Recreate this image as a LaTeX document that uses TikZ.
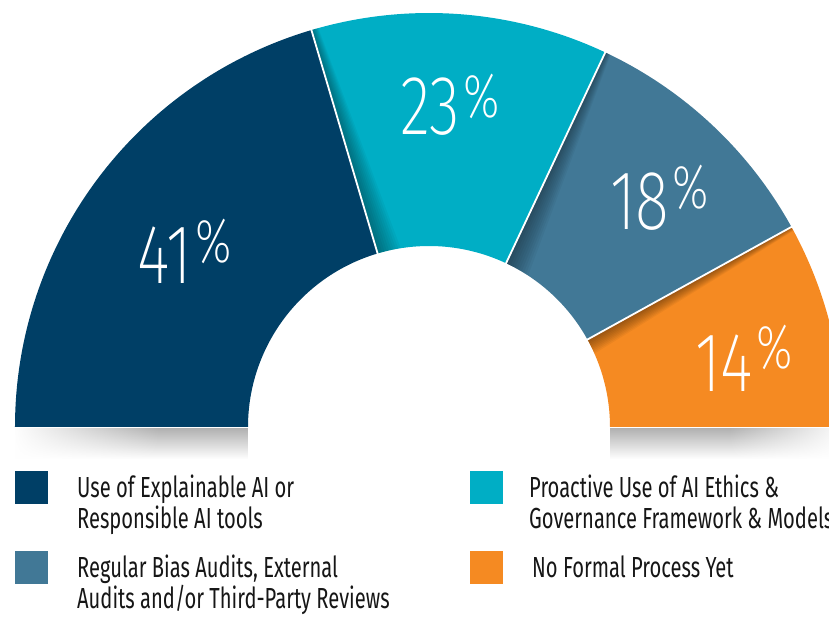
\documentclass[tikz,border=0pt]{standalone}
\usepackage{fontspec}
\setmainfont{Fira Sans}[FakeStretch=0.695]
\newfontfamily\thinfont{Fira Sans ExtraLight}[FakeStretch=0.75]
\usetikzlibrary{fadings}
\definecolor{cnavy}{RGB}{0,63,102}
\definecolor{ccyan}{RGB}{0,174,197}
\definecolor{csteel}{RGB}{65,120,150}
\definecolor{corange}{RGB}{245,138,34}
\definecolor{ctext}{RGB}{22,22,22}
\tikzfading[name=fadeL, left color=transparent!0, right color=transparent!100]
\tikzfading[name=fadeR, left color=transparent!100, right color=transparent!0]
\newcommand\pcsign[1]{\hspace{3pt}\raisebox{#1pt}{\fontsize{62}{62}\selectfont\%}}
\begin{document}
\begin{tikzpicture}[x=1pt,y=1pt,
  slice/.style 2 args={insert path={(#1:414) arc[start angle=#1, end angle=#2, radius=414] -- (#2:181) arc[start angle=#2, end angle=#1, radius=181] -- cycle}},
  sep/.style={white, line width=1.8pt},
  pct/.style={text=white, inner sep=0pt, anchor=base west, font=\thinfont\fontsize{84}{84}\selectfont},
  legbox/.style={minimum size=33pt, inner sep=0pt},
  legtext/.style={text=ctext, inner sep=0pt, anchor=base west, font=\fontsize{29}{32}\selectfont}]
\useasboundingbox (-429,-190) rectangle (400,427);
\clip (-429,-190) rectangle (400,427);
% ground shadow
\shade[top color=black!30, bottom color=white] (-414,-2) rectangle (-181,-32);
\fill[white, path fading=fadeL] (-416,-1) rectangle (-270,-33);
\shade[top color=black!30, bottom color=white] (181,-2) rectangle (414,-32);
\fill[white, path fading=fadeR] (300,-1) rectangle (416,-33);
% slices
\fill[cnavy, slice={180}{106.5}];
\fill[ccyan, slice={106.5}{64.8}];
\fill[csteel, slice={64.8}{28.9}];
\fill[corange, slice={28.9}{0}];
% inner shadows
\begin{scope}
\clip[slice={106.5}{64.8}];
\foreach \k in {1,...,10}
  \fill[black, fill opacity=0.04] (106.5:181) -- (106.5:414) -- ({106.5-0.1*\k}:414) -- ({106.5-0.75*\k}:181) -- cycle;
\end{scope}
\begin{scope}
\clip[slice={64.8}{28.9}];
\foreach \k in {1,...,10}
  \fill[black, fill opacity=0.04] (64.8:181) -- (64.8:414) -- ({64.8-0.08*\k}:414) -- ({64.8-0.8*\k}:181) -- cycle;
\end{scope}
\begin{scope}
\clip[slice={28.9}{0}];
\foreach \k in {1,...,10}
  \fill[black, fill opacity=0.045] (28.9:181) -- (28.9:414) -- ({28.9-0.06*\k}:414) -- ({28.9-0.5*\k}:181) -- cycle;
\end{scope}
% separators
\draw[sep] (106.5:180) -- (106.5:415);
\draw[sep] (64.8:180) -- (64.8:415);
\draw[sep] (28.9:180) -- (28.9:415);
% percentages
\node[pct] (p41) at (-292,143) {41\pcsign{21}};
\node[pct] (p23) at (-29,292) {23\pcsign{17}};
\node[pct] (p18) at (181,197) {18\pcsign{21}};
\node[pct] (p14) at (266,35) {14\pcsign{23}};
% legend
\node[legbox, fill=cnavy] (k1) at (-397.5,-61) {};
\node[legbox, fill=csteel] (k2) at (-397.5,-141) {};
\node[legbox, fill=ccyan] (k3) at (57.5,-61) {};
\node[legbox, fill=corange] (k4) at (57.5,-141) {};
\node[legtext] (t1a) at (-352,-71) {Use of Explainable AI or};
\node[legtext] (t1b) at (-352,-102) {Responsible AI tools};
\node[legtext] (t2a) at (-352,-151) {Regular Bias Audits, External};
\node[legtext] (t2b) at (-352,-182) {Audits and/or Third-Party Reviews};
\node[legtext] (t3a) at (100,-71) {Proactive Use of AI Ethics \&};
\node[legtext] (t3b) at (100,-102) {Governance Framework \& Models};
\node[legtext] (t4) at (103,-151) {No Formal Process Yet};
\end{tikzpicture}
\end{document}
